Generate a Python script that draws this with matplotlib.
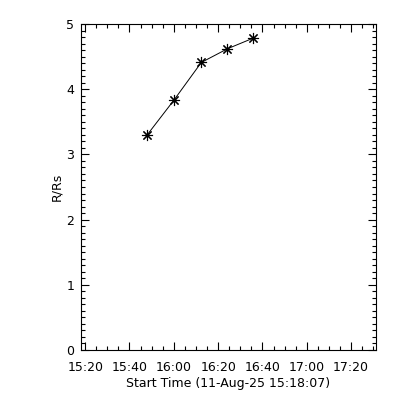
import matplotlib
matplotlib.use("Agg")
import matplotlib.pyplot as plt
import matplotlib.dates as mdates
from datetime import datetime

# height-time points
times = ["15:48:00", "16:00:00", "16:12:24", "16:24:12", "16:35:36"]
heights = [3.30, 3.83, 4.41, 4.62, 4.78]
x_start = "15:18:07"
x_end = "17:31:15"
day = "2025-08-11"

def t(s):
    return datetime.strptime(day + " " + s, "%Y-%m-%d %H:%M:%S")

tx = [t(s) for s in times]

plt.rcParams.update({"font.family": "DejaVu Sans", "font.size": 9})
fig = plt.figure(figsize=(4, 4), dpi=100)
ax = fig.add_axes([0.2025, 0.125, 0.7375, 0.815])

ax.plot(tx, heights, color="black", linewidth=0.7)
ax.plot(tx, heights, linestyle="none", marker=(8, 2, 0), markersize=8,
        markeredgewidth=0.8, color="black")

ax.set_xlim(t(x_start), t(x_end))
ax.set_ylim(0, 5)
ax.xaxis.set_major_locator(mdates.MinuteLocator(byminute=[0, 20, 40]))
ax.xaxis.set_minor_locator(mdates.MinuteLocator(byminute=range(0, 60, 5)))
ax.xaxis.set_major_formatter(mdates.DateFormatter("%H:%M"))
ax.yaxis.set_major_locator(plt.MultipleLocator(1))
ax.yaxis.set_minor_locator(plt.MultipleLocator(0.1))

ax.tick_params(which="both", direction="in", top=True, right=True, width=0.8)
ax.tick_params(which="major", length=6)
ax.tick_params(which="minor", length=3)
ax.tick_params(axis="x", which="major", pad=8)
ax.tick_params(axis="y", which="major", pad=5)
for s in ax.spines.values():
    s.set_linewidth(0.8)

ax.set_ylabel("R/Rs", labelpad=2)
ax.set_xlabel("Start Time (11-Aug-25 15:18:07)", labelpad=2)

fig.savefig("out.png", dpi=100)
